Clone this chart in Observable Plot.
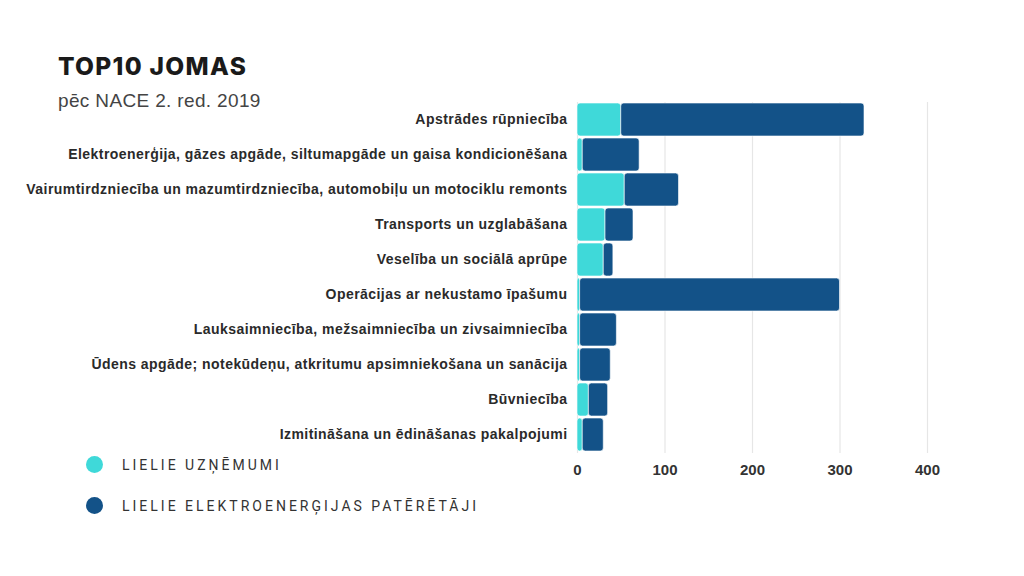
<!DOCTYPE html>
<html>
<head>
<meta charset="utf-8">
<script src="https://cdn.jsdelivr.net/npm/d3@7"></script>
<script src="https://cdn.jsdelivr.net/npm/@observablehq/plot@0.6"></script>
<style>
  html, body { margin: 0; padding: 0; background: #fff; }
  #wrap { position: relative; width: 1024px; height: 576px; overflow: hidden; }
  #chart { position: absolute; left: 0; top: 0; }
  .title { position: absolute; left: 58px; top: 51px; font-family: Inter, Roboto, sans-serif; font-weight: 800; font-size: 24.5px; letter-spacing: 1.3px; color: #1a1a1a; }
  .subtitle { position: absolute; left: 58px; top: 90px; font-family: "Liberation Sans", Arial, sans-serif; font-size: 19px; letter-spacing: 0.35px; color: #444; }
  .legend { position: absolute; left: 86px; font-family: Roboto, "Noto Sans", sans-serif; font-size: 14px; letter-spacing: 3px; color: #333; display: flex; align-items: center; }
  .legend .dot { width: 17px; height: 17px; border-radius: 50%; margin-right: 19px; }
  #chart svg text { font-family: "Liberation Sans", Arial, sans-serif; }
  #chart svg g[aria-label="y-axis tick label"] text { letter-spacing: 0.45px; }
</style>
</head>
<body>
<div id="wrap">
  <div id="chart"></div>
  <div class="title">TOP10 JOMAS</div>
  <div class="subtitle">pēc NACE 2. red. 2019</div>
  <div id="legend"></div>
</div>
<script>
const categories = [
  "Apstrādes rūpniecība",
  "Elektroenerģija, gāzes apgāde, siltumapgāde un gaisa kondicionēšana",
  "Vairumtirdzniecība un mazumtirdzniecība, automobiļu un motociklu remonts",
  "Transports un uzglabāšana",
  "Veselība un sociālā aprūpe",
  "Operācijas ar nekustamo īpašumu",
  "Lauksaimniecība, mežsaimniecība un zivsaimniecība",
  "Ūdens apgāde; notekūdeņu, atkritumu apsimniekošana un sanācija",
  "Būvniecība",
  "Izmitināšana un ēdināšanas pakalpojumi"
];
const seriesNames = ["LIELIE UZŅĒMUMI", "LIELIE ELEKTROENERĢIJAS PATĒRĒTĀJI"];
const lielieUznemumi = [50, 6, 54, 32, 30, 3, 3, 3, 13, 6];
const lielieElektro = [278, 65, 62, 32, 11, 297, 42, 35, 22, 24];
const xTicks = [0, 100, 200, 300, 400];
const colors = ["#3fd9d9", "#135288"];

const data = [];
categories.forEach((c, i) => {
  data.push({category: c, series: seriesNames[0], value: lielieUznemumi[i]});
  data.push({category: c, series: seriesNames[1], value: lielieElektro[i]});
});

const chart = Plot.plot({
  width: 1024,
  height: 576,
  marginLeft: 577,
  marginRight: 97,
  marginTop: 102,
  marginBottom: 123,
  style: {fontFamily: "'Liberation Sans', Arial, sans-serif", background: "transparent"},
  x: {domain: [0, 400], ticks: xTicks, grid: false, label: null},
  y: {domain: categories, paddingInner: 0.05, paddingOuter: 0, label: null},
  color: {domain: seriesNames, range: colors},
  marks: [
    Plot.gridX(xTicks, {stroke: "#e6e6e6", strokeOpacity: 1, strokeWidth: 1.2}),
    Plot.barX(data, Plot.stackX({
      x: "value", y: "category", fill: "series", order: seriesNames,
      rx: 3, stroke: "#ffffff", strokeWidth: 1, strokeOpacity: 0.6
    })),
    Plot.axisX({ticks: xTicks, tickSize: 0, tickPadding: 11, fontSize: 15, fontWeight: "bold", fill: "#333", label: null}),
    Plot.axisY({tickSize: 0, tickPadding: 10, fontSize: 14, fontWeight: "bold", fill: "#2a2a2a", label: null})
  ]
});
document.getElementById("chart").appendChild(chart);

const legend = document.getElementById("legend");
const legendTops = [456, 497];
seriesNames.forEach((s, i) => {
  const row = document.createElement("div");
  row.className = "legend";
  row.style.top = legendTops[i] + "px";
  const dot = document.createElement("div");
  dot.className = "dot";
  dot.style.background = colors[i];
  const txt = document.createElement("span");
  txt.textContent = s;
  row.appendChild(dot);
  row.appendChild(txt);
  legend.appendChild(row);
});
</script>
</body>
</html>
